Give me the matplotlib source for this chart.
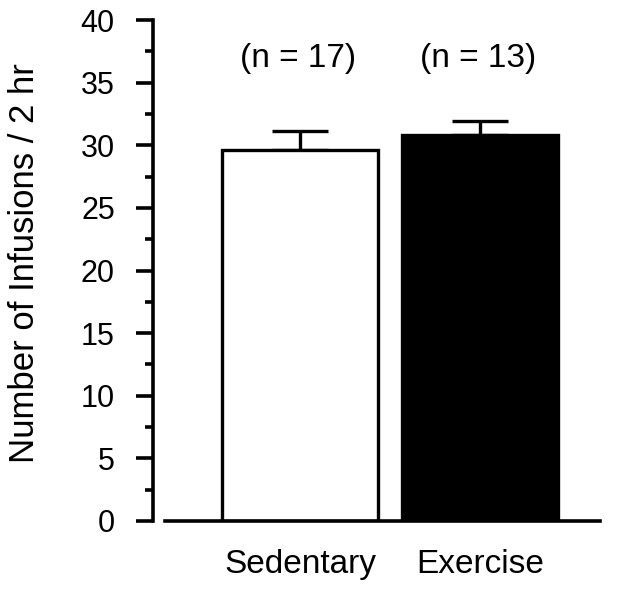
import numpy as np
import matplotlib
matplotlib.use("Agg")
import matplotlib.pyplot as plt
from matplotlib.ticker import MultipleLocator

plt.rcParams['font.family'] = ['Liberation Sans', 'DejaVu Sans']

# data
groups = ["Sedentary", "Exercise"]
infusions = [29.6, 30.85]
sem = [1.5, 1.1]
n_labels = ["(n = 17)", "(n = 13)"]
bar_colors = ["white", "black"]

fig = plt.figure(figsize=(6.24, 5.9), dpi=100)
ax = fig.add_axes([153/624, 69/590, 447/624, 501/590])

x = np.arange(len(groups))
ax.errorbar(x, infusions, yerr=[np.zeros(len(sem)), sem], fmt='none',
            ecolor='black', elinewidth=2.4, capsize=20.5, capthick=2.4, zorder=1)
ax.bar(x, infusions, width=0.867, color=bar_colors, edgecolor='black',
       linewidth=2.4, zorder=2)

for xi, lab in zip(x, n_labels):
    ax.text(xi - 0.01, 36.9, lab, ha='center', va='center', fontsize=24)

ax.set_xlim(-0.817, 1.667)
ax.set_ylim(0, 40)
ax.yaxis.set_major_locator(MultipleLocator(5))
ax.yaxis.set_minor_locator(MultipleLocator(2.5))
ax.set_xticks(x)
ax.set_xticklabels(groups, fontsize=24)

for s in ['top', 'right']:
    ax.spines[s].set_visible(False)
ax.spines['left'].set_linewidth(2.6)
ax.spines['bottom'].set_linewidth(2.6)
ax.spines['left'].set_bounds(0, 40)
ax.spines['bottom'].set_bounds(-0.75, 1.667)

ax.tick_params(axis='y', which='major', length=12.5, width=2.6, pad=15, labelsize=22)
ax.tick_params(axis='y', which='minor', length=6, width=2.6)
ax.tick_params(axis='x', length=0, pad=20)

ax.set_ylabel("Number of Infusions / 2 hr", fontsize=25)
ax.yaxis.set_label_coords(-0.25, 0.514)

fig.savefig("out.png", dpi=100)
